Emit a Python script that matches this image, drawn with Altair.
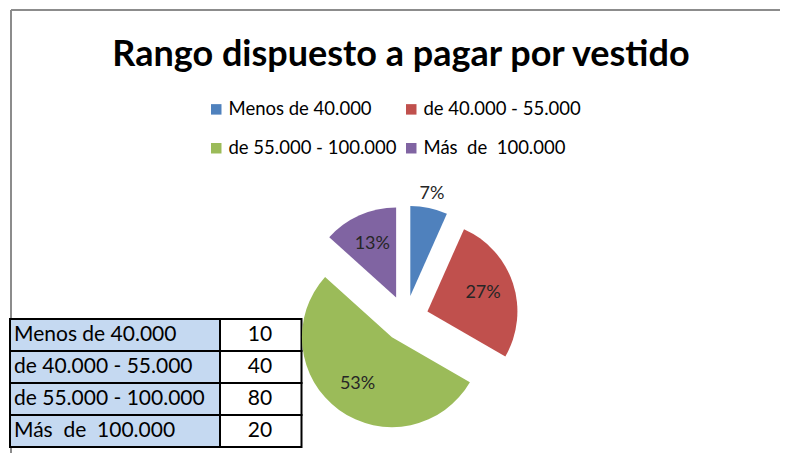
import altair as alt
import pandas as pd

# ---- data ----
title_text = "Rango dispuesto a pagar por vestido"
categories = ["Menos de 40.000", "de 40.000 - 55.000", "de 55.000 - 100.000", "Más\u00a0 de\u00a0 100.000"]
values = [10, 40, 80, 20]
colors = ["#4F81BD", "#C0504D", "#9BBB59", "#8064A2"]

df = pd.DataFrame({"cat": categories, "value": values, "idx": list(range(len(categories)))})
tdf = pd.DataFrame({"t": [title_text]})

FONT = "Lato"
W, H = 772, 445
# pie geometry (plot coordinates)
CX, CY, R = 397.5, 310.5, 90
EXPL = 0.256          # explosion, in radius units
LR_IN, LR_OUT = 0.65, 1.16

# ---- frame & title ----
frame_top = alt.Chart(tdf).mark_rule(color="#8c8c8c", strokeWidth=2).encode(
    x=alt.value(3), x2=alt.value(W), y=alt.value(2))
frame_left = alt.Chart(tdf).mark_rule(color="#8c8c8c", strokeWidth=2).encode(
    x=alt.value(3), y=alt.value(2), y2=alt.value(H))
title = alt.Chart(tdf).mark_text(font=FONT, fontSize=36, fontWeight="bold", color="#000000",
                                 align="center", baseline="alphabetic").encode(
    x=alt.value(393), y=alt.value(58), text="t:N")

# ---- table ----
ysc = alt.Scale(domain=categories, range=[311, 439], paddingInner=0, paddingOuter=0)
ytab = alt.Y("cat:N", sort=categories, scale=ysc, axis=None)
tab_left = alt.Chart(df).mark_rect(fill="#C5D9F1", stroke="#000000", strokeWidth=2).encode(
    y=ytab, x=alt.value(2), x2=alt.value(212))
tab_right = alt.Chart(df).mark_rect(fill="#FFFFFF", stroke="#000000", strokeWidth=2).encode(
    y=ytab, x=alt.value(212), x2=alt.value(293.5))
tab_txt = alt.Chart(df).mark_text(font=FONT, fontSize=21, align="left", baseline="middle",
                                  color="#000000").encode(y=ytab, x=alt.value(6), text="cat:N")
tab_val = alt.Chart(df).mark_text(font=FONT, fontSize=21, align="center", baseline="middle",
                                  color="#000000").encode(y=ytab, x=alt.value(252), text="value:Q")
table = alt.layer(tab_left, tab_right, tab_txt, tab_val)

# ---- exploded pie ----
pie_base = alt.Chart(df).transform_window(
    cum="sum(value)", sort=[alt.SortField("idx")], frame=[None, 0]
).transform_joinaggregate(total="sum(value)").transform_calculate(
    pct="datum.value / datum.total",
    mid="(datum.cum - datum.value / 2) / datum.total * 2 * PI",
).transform_calculate(
    ex=f"{EXPL} * sin(datum.mid)",
    ey=f"-{EXPL} * cos(datum.mid)",
    lr=f"datum.pct < 0.1 ? {EXPL + LR_OUT} : {EXPL + LR_IN}",
).transform_calculate(
    lx="datum.lr * sin(datum.mid)",
    ly="-datum.lr * cos(datum.mid)",
)
xs = alt.Scale(domain=[-1, 1], range=[CX - R, CX + R])
ys = alt.Scale(domain=[-1, 1], range=[CY - R, CY + R])

arcs = pie_base.mark_arc(radius=R).encode(
    theta=alt.Theta("value:Q", stack=True),
    order=alt.Order("idx:Q"),
    color=alt.Color("cat:N", sort=categories,
                    scale=alt.Scale(domain=categories, range=colors),
                    legend=alt.Legend(title=None, orient="none", legendX=199, legendY=92,
                                      direction="horizontal", columns=2,
                                      symbolType="square", symbolSize=110,
                                      symbolStrokeWidth=0, labelFont=FONT, labelFontSize=18.5,
                                      labelColor="#000000", labelOffset=3, labelLimit=400,
                                      rowPadding=20, columnPadding=5, padding=0)),
    x=alt.X("ex:Q", scale=xs, axis=None),
    y=alt.Y("ey:Q", scale=ys, axis=None),
)
labels = pie_base.mark_text(font=FONT, fontSize=18, color="#262626",
                            align="center", baseline="middle").encode(
    x=alt.X("lx:Q", scale=xs, axis=None),
    y=alt.Y("ly:Q", scale=ys, axis=None),
    text=alt.Text("pct:Q", format=".0%"),
)
pie = alt.layer(arcs, labels)

chart = alt.layer(frame_top, frame_left, title, table, pie).resolve_scale(
    x="independent", y="independent"
).properties(
    width=W, height=H, autosize=alt.AutoSizeParams(type="none"), padding=0
).configure_view(stroke=None)

chart.save("out.html", embed_options={"renderer": "svg", "actions": False})
